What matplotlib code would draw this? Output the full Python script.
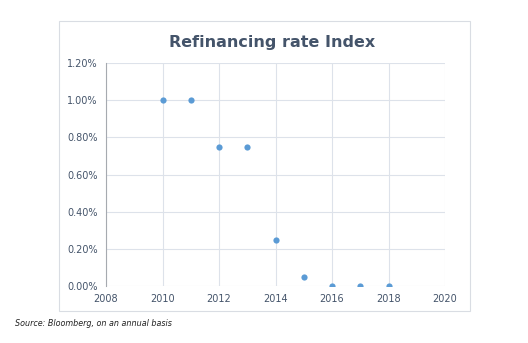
import matplotlib.pyplot as plt
from matplotlib.patches import Rectangle
from matplotlib.ticker import PercentFormatter

years = [2010, 2011, 2012, 2013, 2014, 2015, 2016, 2017, 2018]
rates = [1.00, 1.00, 0.75, 0.75, 0.25, 0.05, 0.00, 0.00, 0.00]

x_ticks = [2008, 2010, 2012, 2014, 2016, 2018, 2020]
y_ticks = [0.0, 0.2, 0.4, 0.6, 0.8, 1.0, 1.2]

fig = plt.figure(figsize=(5.28, 3.43), dpi=100)

# chart frame
fig.patches.append(Rectangle((59 / 528, 1 - 311 / 343), 411 / 528, 290 / 343,
                             transform=fig.transFigure, fill=False,
                             edgecolor='#D9DDE3', linewidth=0.8))

ax = fig.add_axes([106 / 528, 1 - 286 / 343, 339 / 528, 223 / 343])
ax.scatter(years, rates, s=20, color='#5B9BD5', zorder=3, linewidths=0)

ax.set_xlim(2008, 2020)
ax.set_ylim(0, 1.2)
ax.set_xticks(x_ticks)
ax.set_yticks(y_ticks)
ax.yaxis.set_major_formatter(PercentFormatter(100, decimals=2))
ax.grid(True, color='#DDE2EA', linewidth=0.8)
ax.set_axisbelow(True)
for s in ['top', 'right', 'bottom']:
    ax.spines[s].set_visible(False)
ax.spines['left'].set_color('#A6AAB0')
ax.spines['left'].set_linewidth(0.8)
ax.tick_params(length=0, labelsize=7, labelcolor='#44546A', pad=6)

fig.text(272 / 528, 1 - 42 / 343, 'Refinancing rate Index', ha='center', va='center',
         fontsize=11.5, fontweight='bold', color='#44546A')
fig.text(15 / 528, 1 - 323 / 343, 'Source: Bloomberg, on an annual basis', ha='left',
         va='center', fontsize=5.8, style='italic', color='#222222')

fig.savefig('out.png', dpi=100)
